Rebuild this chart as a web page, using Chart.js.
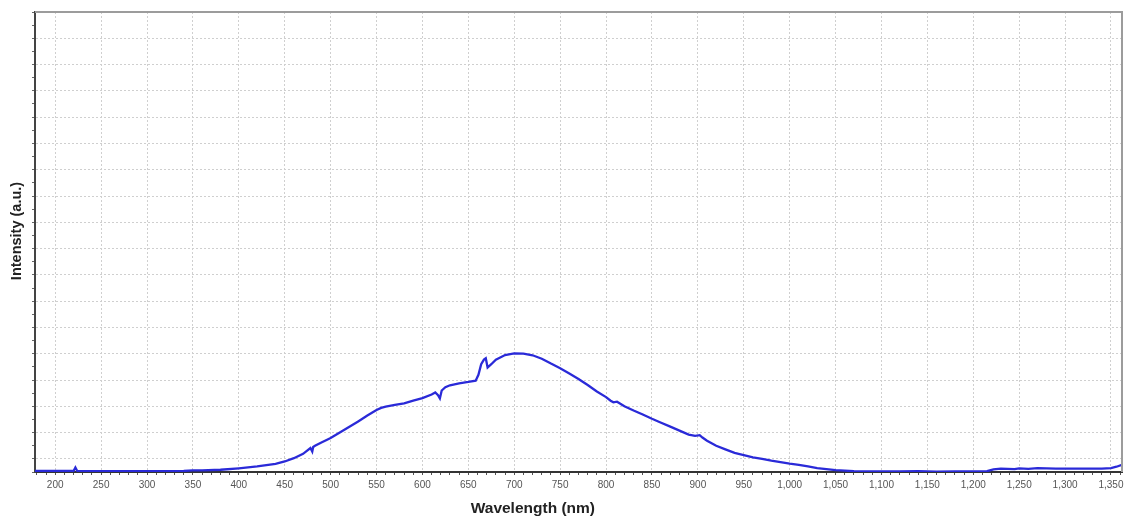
<!DOCTYPE html>
<html>
<head>
<meta charset="utf-8">
<title>Spectrum</title>
<script src="https://cdn.jsdelivr.net/npm/chart.js@4.4.1/dist/chart.umd.min.js"></script>
<style>
    body { margin: 0; background: #fff; }
    canvas { display: block; }
</style>
</head>
<body>
<canvas id="spectrumChart" width="1125" height="516"></canvas>
<script>
// wavelength (nm) and intensity (arbitrary units)
const wavelengths = [178, 200, 220, 222, 224, 250, 300, 340, 350, 360, 380, 400, 420, 440, 450, 460, 470, 478, 480, 481, 483, 490,
    500, 510, 520, 530, 540, 550, 555, 560, 570, 580, 590, 600, 610, 614, 617, 619, 621, 625, 630, 640, 650, 658, 661, 664, 667,
    669, 671, 675, 680, 690, 700, 710, 720, 730, 740, 750, 760, 770, 780, 790, 800, 805, 808, 812, 816, 820, 830, 840, 850, 860,
    870, 880, 890, 897, 902, 905, 910, 920, 930, 940, 950, 960, 970, 980, 990, 1000, 1010, 1020, 1030, 1040, 1050, 1060, 1070,
    1080, 1100, 1120, 1140, 1160, 1180, 1200, 1215, 1222, 1230, 1245, 1250, 1260, 1270, 1290, 1310, 1330, 1340, 1350, 1356, 1362];
const intensity = [0.08, 0.08, 0.08, 0.35, 0.08, 0.07, 0.07, 0.08, 0.12, 0.13, 0.17, 0.28, 0.42, 0.62, 0.8, 1.05, 1.38, 1.82, 1.55, 1.9, 2.0, 2.25,
    2.58, 3.0, 3.42, 3.85, 4.3, 4.72, 4.88, 4.97, 5.1, 5.22, 5.43, 5.62, 5.9, 6.05, 5.85, 5.6, 6.2, 6.45, 6.6, 6.75, 6.85, 6.95, 7.4, 8.2, 8.55,
    8.65, 7.95, 8.2, 8.55, 8.9, 9.02, 9.0, 8.88, 8.62, 8.25, 7.9, 7.5, 7.08, 6.62, 6.13, 5.7, 5.42, 5.3, 5.35, 5.18, 5.0, 4.68, 4.38, 4.05, 3.75,
    3.45, 3.15, 2.85, 2.75, 2.8, 2.62, 2.38, 2.0, 1.72, 1.45, 1.28, 1.12, 1.0, 0.86, 0.75, 0.64, 0.55, 0.42, 0.3, 0.22, 0.15, 0.1, 0.06,
    0.05, 0.05, 0.04, 0.06, 0.02, 0.05, 0.05, 0.06, 0.2, 0.25, 0.22, 0.28, 0.24, 0.3, 0.25, 0.26, 0.25, 0.26, 0.3, 0.4, 0.55];

const xMin = 178, xMax = 1362;
const xLabelTicks = [200, 250, 300, 350, 400, 450, 500, 550, 600, 650, 700, 750, 800, 850, 900, 950, 1000, 1050, 1100, 1150, 1200, 1250, 1300, 1350];
const yMin = 0, yMax = 35;

const gridGray = '#cfcfcf';

// top/right frame and the two axis titles
const frameAndTitles = {
    id: 'frameAndTitles',
    afterDraw(chart) {
        const { ctx, chartArea: a } = chart;
        ctx.save();
        ctx.strokeStyle = '#9c9c9c';
        ctx.lineWidth = 2;
        ctx.beginPath();
        ctx.moveTo(a.left, a.top);
        ctx.lineTo(a.right, a.top);
        ctx.lineTo(a.right, a.bottom);
        ctx.stroke();

        ctx.fillStyle = '#222';
        ctx.font = 'bold 15.5px "Liberation Sans", Arial, sans-serif';
        ctx.textAlign = 'center';
        ctx.textBaseline = 'middle';
        ctx.fillText('Wavelength (nm)', a.left + (a.right - a.left) * 0.458, 509);

        ctx.font = 'bold 14.5px "Liberation Sans", Arial, sans-serif';
        ctx.translate(17, 231);
        ctx.rotate(-Math.PI / 2);
        ctx.fillText('Intensity (a.u.)', 0, 0);
        ctx.restore();
    }
};

new Chart(document.getElementById('spectrumChart'), {
    type: 'line',
    data: {
        datasets: [{
            data: wavelengths.map((w, i) => ({ x: w, y: intensity[i] })),
            borderColor: '#2a2ad8',
            borderWidth: 2.3,
            pointRadius: 0,
            tension: 0,
            fill: false
        }]
    },
    options: {
        responsive: false,
        animation: false,
        layout: { padding: { top: 12, right: 3, left: 0, bottom: 0 } },
        plugins: { legend: { display: false }, tooltip: { enabled: false } },
        scales: {
            x: {
                type: 'linear',
                min: xMin,
                max: xMax,
                afterBuildTicks: scale => {
                    const ticks = [];
                    for (let v = 180; v <= 1360; v += 10) ticks.push({ value: v });
                    scale.ticks = ticks;
                },
                afterFit: scale => { scale.height = 44; },
                ticks: {
                    autoSkip: false,
                    maxRotation: 0,
                    padding: 4,
                    color: '#555',
                    font: { family: '"Liberation Sans", Arial, sans-serif', size: 10 },
                    callback: v => xLabelTicks.includes(v) ? v.toLocaleString('en-US') : ''
                },
                grid: {
                    color: c => (c.tick && c.tick.value % 50 === 0) ? gridGray : 'rgba(0,0,0,0)',
                    lineWidth: 1,
                    tickColor: '#555',
                    tickLength: 3
                },
                border: { display: true, color: '#333', width: 2, dash: [2, 2] }
            },
            y: {
                min: yMin,
                max: yMax,
                afterBuildTicks: scale => {
                    const ticks = [];
                    for (let v = yMin; v <= yMax; v++) ticks.push({ value: v });
                    scale.ticks = ticks;
                },
                afterFit: scale => { scale.width = 35; },
                ticks: { display: false },
                grid: {
                    color: c => (c.tick && c.tick.value % 2 === 1) ? gridGray : 'rgba(0,0,0,0)',
                    lineWidth: 1,
                    tickColor: '#666',
                    tickLength: 3
                },
                border: { display: true, color: '#444', width: 2, dash: [2, 2] }
            }
        }
    },
    plugins: [frameAndTitles]
});
</script>
</body>
</html>
